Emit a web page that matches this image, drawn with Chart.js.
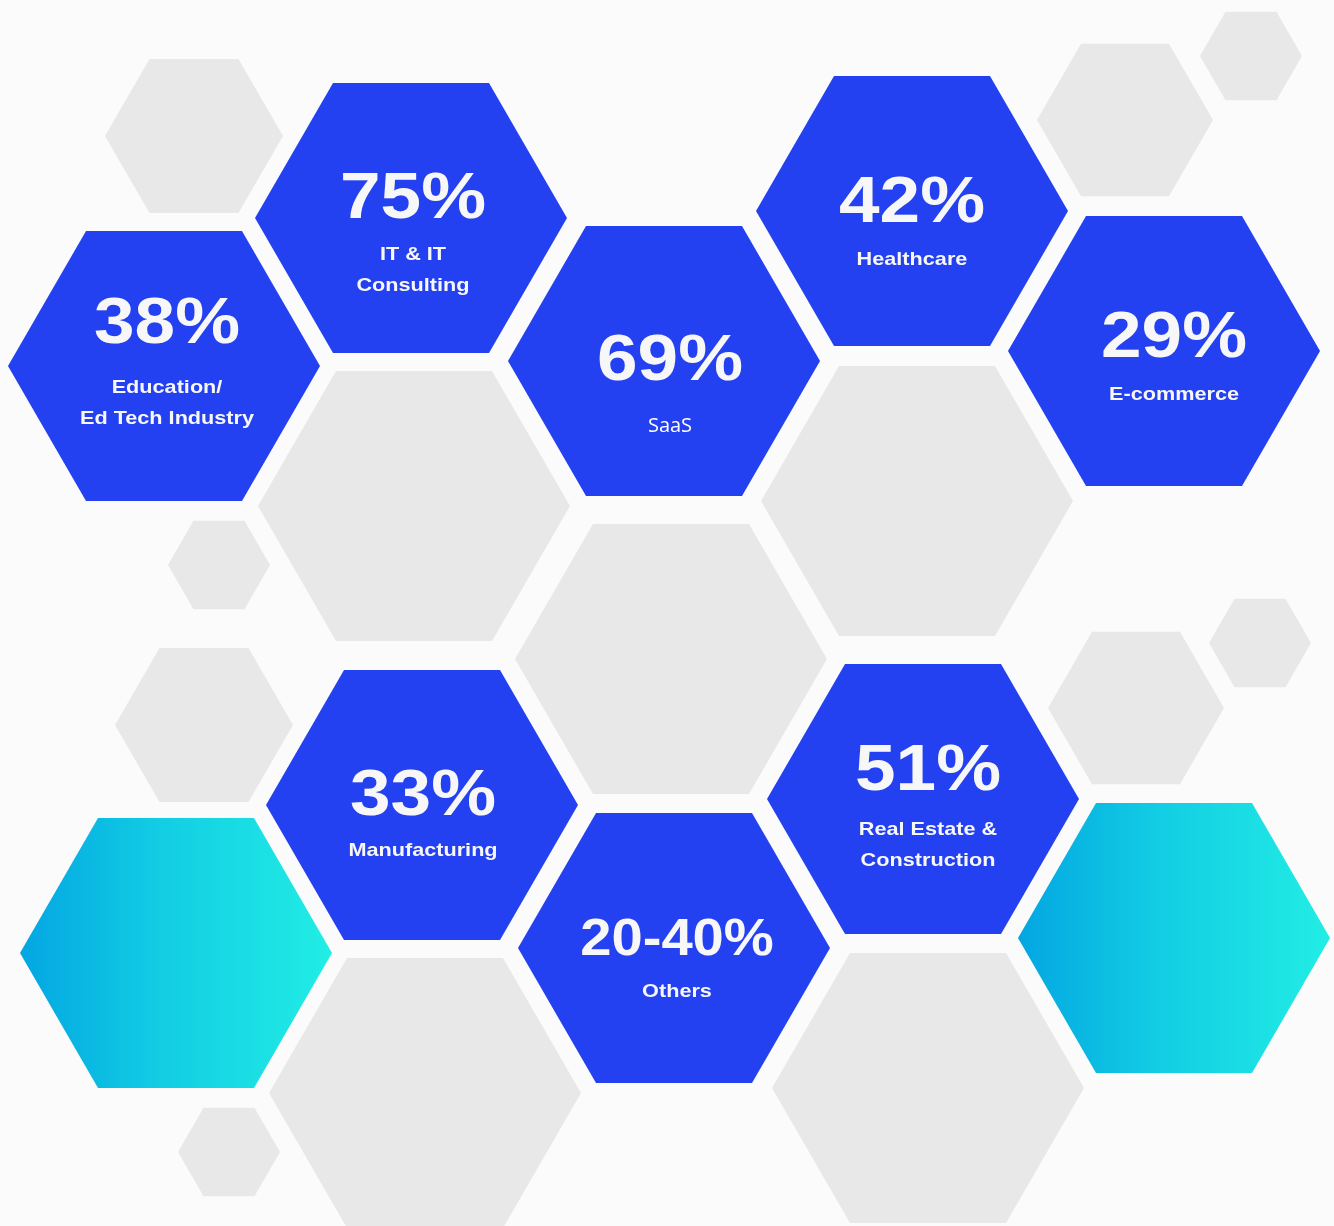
<!DOCTYPE html>
<html lang="en">
<head>
  <meta charset="UTF-8">
  <title>Adoption by industry</title>
  <style>
    body {
      margin: 0;
      background: #fbfbfb;
      overflow: hidden;
    }
    #hexChart {
      display: block;
    }
  </style>
</head>
<body>
  <canvas id="hexChart" width="1334" height="1226"></canvas>

  <script src="https://cdn.jsdelivr.net/npm/chart.js"></script>
  <script>
    // data
    const sectors = ['Education/\nEd Tech Industry', 'IT & IT\nConsulting', 'SaaS', 'Healthcare', 'E-commerce', 'Manufacturing', 'Others', 'Real Estate &\nConstruction'];
    const shareMin = [38, 75, 69, 42, 29, 33, 20, 51];
    const shareMax = [38, 75, 69, 42, 29, 33, 40, 51];

    // layout (hex centres in page units)
    const sectorX = [164, 411, 664, 912, 1164, 422, 674, 923];
    const sectorY = [366, 218, 361, 211, 351, 805, 948, 799];
    const pctDy = [-23, 0, 19, 11, 6, 10, 7, -9];
    const labelDy = [27, 42, 71, 54, 49, 51, 49, 36];
    const textDx = [3, 2, 6, 0, 10, 1, 3, 5];

    const accentX = [176, 1174];
    const accentY = [953, 938];

    const decorX = [194, 414, 219, 671, 917, 1125, 1251, 204, 1136, 1260, 425, 229, 928];
    const decorY = [136, 506, 565, 659, 501, 120, 56, 725, 708, 643, 1093, 1152, 1088];
    const decorSize = [89, 156, 51, 156, 156, 88, 51, 89, 88, 51, 156, 51, 156];

    const BIG = 156;
    const BLUE = '#2441f1';
    const GREY = '#e8e8e8';

    function fmtShare(i) {
      return shareMin[i] === shareMax[i] ? shareMin[i] + '%' : shareMin[i] + '-' + shareMax[i] + '%';
    }

    function hexPath(ctx, cx, cy, r) {
      const h = r * Math.sqrt(3) / 2;
      ctx.beginPath();
      ctx.moveTo(cx - r, cy);
      ctx.lineTo(cx - r / 2, cy - h);
      ctx.lineTo(cx + r / 2, cy - h);
      ctx.lineTo(cx + r, cy);
      ctx.lineTo(cx + r / 2, cy + h);
      ctx.lineTo(cx - r / 2, cy + h);
      ctx.closePath();
    }

    function stretchText(ctx, txt, x, y, sx) {
      ctx.save();
      ctx.translate(x, y);
      ctx.scale(sx, 1);
      ctx.fillText(txt, 0, 0);
      ctx.restore();
    }

    const hexPlugin = {
      id: 'hexes',
      beforeDatasetsDraw(chart) {
        const ctx = chart.ctx;
        const xs = chart.scales.x;
        const px = v => xs.getPixelForValue(v) - xs.getPixelForValue(0);
        ctx.save();
        chart.data.datasets.forEach((ds, di) => {
          const meta = chart.getDatasetMeta(di);
          meta.data.forEach((pt, i) => {
            const r = px(ds.hexSize ? ds.hexSize[i] : BIG);
            hexPath(ctx, pt.x, pt.y, r);
            if (ds.kind === 'accent') {
              const g = ctx.createLinearGradient(pt.x - r, 0, pt.x + r, 0);
              g.addColorStop(0, '#03a6e2');
              g.addColorStop(0.45, '#12cde3');
              g.addColorStop(1, '#22ede5');
              ctx.fillStyle = g;
            } else {
              ctx.fillStyle = ds.kind === 'sector' ? BLUE : GREY;
            }
            ctx.fill();
          });
        });
        ctx.restore();
      },
      afterDatasetsDraw(chart) {
        const ctx = chart.ctx;
        const di = chart.data.datasets.findIndex(d => d.kind === 'sector');
        const meta = chart.getDatasetMeta(di);
        ctx.save();
        ctx.fillStyle = '#f7f7f7';
        ctx.textAlign = 'center';
        ctx.textBaseline = 'alphabetic';
        meta.data.forEach((pt, i) => {
          const x = pt.x + textDx[i];
          const pct = fmtShare(i);
          const wide = pct.length > 4;
          ctx.font = 'bold ' + (wide ? 52 : 64) + 'px "Liberation Sans", Arial, sans-serif';
          stretchText(ctx, pct, x, pt.y + pctDy[i], wide ? 1.08 : 1.14);
          const lines = sectors[i].split('\n');
          if (sectors[i] === 'SaaS') {
            ctx.fillStyle = '#ffffff';
            ctx.font = '20px "Open Sans", sans-serif';
            ctx.fillText(lines[0], x, pt.y + labelDy[i]);
            ctx.fillStyle = '#f7f7f7';
          } else {
            ctx.font = 'bold 19px "Liberation Sans", Arial, sans-serif';
            lines.forEach((ln, k) => stretchText(ctx, ln, x, pt.y + labelDy[i] + k * 31, 1.14));
          }
        });
        ctx.restore();
      }
    };

    new Chart(document.getElementById('hexChart'), {
      type: 'scatter',
      data: {
        datasets: [
          {
            kind: 'decor',
            hexSize: decorSize,
            data: decorX.map((x, i) => ({ x: x, y: decorY[i] })),
            pointRadius: 0
          },
          {
            kind: 'accent',
            data: accentX.map((x, i) => ({ x: x, y: accentY[i] })),
            pointRadius: 0
          },
          {
            kind: 'sector',
            label: 'Share',
            data: sectorX.map((x, i) => ({ x: x, y: sectorY[i] })),
            pointRadius: 0
          }
        ]
      },
      options: {
        responsive: false,
        animation: false,
        layout: { padding: 0 },
        plugins: {
          legend: { display: false },
          tooltip: { enabled: false }
        },
        scales: {
          x: { type: 'linear', min: 0, max: 1334, display: false },
          y: { type: 'linear', min: 0, max: 1226, reverse: true, display: false }
        }
      },
      plugins: [hexPlugin]
    });
  </script>
</body>
</html>
